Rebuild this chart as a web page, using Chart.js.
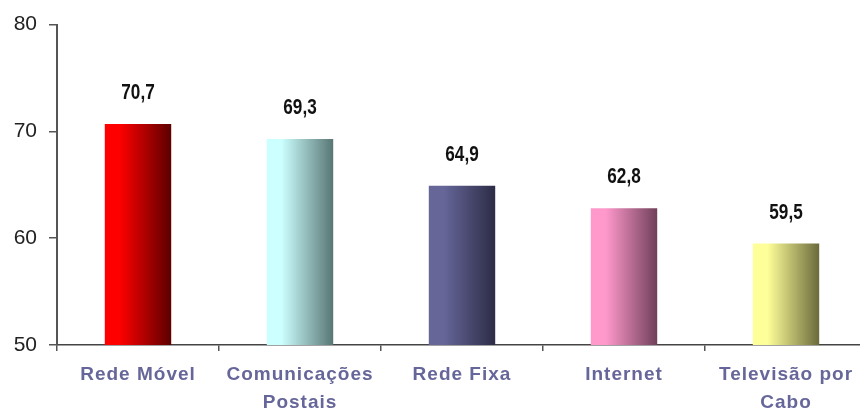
<!DOCTYPE html>
<html>
<head>
<meta charset="utf-8">
<script src="https://cdn.jsdelivr.net/npm/chart.js@4/dist/chart.umd.min.js"></script>
<style>
  html, body { margin: 0; padding: 0; background: #fff; overflow: hidden; }
  #wrap { position: relative; width: 870px; height: 414px; }
</style>
</head>
<body>
<div id="wrap"><canvas id="c" width="870" height="414"></canvas></div>
<script>
// Satisfaction index per service
const categories = ['Rede Móvel', ['Comunicações', 'Postais'], 'Rede Fixa', 'Internet', ['Televisão por', 'Cabo']];
const values = [70.7, 69.3, 64.9, 62.8, 59.5];
const yTicks = [50, 60, 70, 80];

// light → dark horizontal shading for each bar
const gradStart = ['#ff0000', '#ccffff', '#666699', '#ff99cc', '#ffff99'];
const gradEnd   = ['#5c0000', '#587674', '#2c2c46', '#70405a', '#6a6a3c'];

const BAR_PCT = 0.41;

function barGradient(ctx) {
  const chart = ctx.chart;
  const i = ctx.dataIndex;
  const xs = chart.scales.x;
  if (!chart.chartArea || !xs || i === undefined) return gradStart[i] || '#999';
  const cx = xs.getPixelForValue(i);
  const half = (xs.width / categories.length) * BAR_PCT / 2;
  const g = chart.ctx.createLinearGradient(cx - half, 0, cx + half, 0);
  g.addColorStop(0, gradStart[i]);
  g.addColorStop(0.22, gradStart[i]);
  g.addColorStop(1, gradEnd[i]);
  return g;
}

// value above each bar, in a condensed bold face
const valueLabels = {
  id: 'valueLabels',
  afterDatasetsDraw(chart) {
    const ctx = chart.ctx;
    const meta = chart.getDatasetMeta(0);
    meta.data.forEach((bar, i) => {
      ctx.save();
      ctx.translate(bar.x, bar.y - 31);
      ctx.scale(0.78, 1);
      ctx.font = 'bold 22px "Liberation Sans", Arial, sans-serif';
      ctx.fillStyle = '#111';
      ctx.textAlign = 'center';
      ctx.textBaseline = 'middle';
      ctx.fillText(values[i].toFixed(1).replace('.', ','), 0, 0);
      ctx.restore();
    });
  }
};

const categoryLabels = {
  id: 'categoryLabels',
  afterDraw(chart) {
    const ctx = chart.ctx;
    const xs = chart.scales.x;
    ctx.save();
    ctx.font = 'bold 19px "Liberation Sans", Arial, sans-serif';
    ctx.letterSpacing = '1px';
    ctx.fillStyle = '#66669a';
    ctx.textAlign = 'center';
    ctx.textBaseline = 'middle';
    categories.forEach((lab, i) => {
      const lines = Array.isArray(lab) ? lab : [lab];
      const x = xs.getPixelForValue(i);
      lines.forEach((t, k) => ctx.fillText(t, x, xs.top + 30 + k * 28));
    });
    ctx.restore();
  }
};

new Chart(document.getElementById('c'), {
  type: 'bar',
  data: {
    labels: categories,
    datasets: [{
      data: values,
      backgroundColor: barGradient,
      borderWidth: 0,
      barPercentage: BAR_PCT,
      categoryPercentage: 1
    }]
  },
  options: {
    responsive: false,
    animation: false,
    devicePixelRatio: 1,
    layout: { padding: { top: 22, right: 3, left: 0, bottom: 0 } },
    plugins: { legend: { display: false }, tooltip: { enabled: false } },
    scales: {
      x: {
        offset: true,
        grid: { display: true, drawOnChartArea: false, drawTicks: true, tickLength: 6, color: '#555', lineWidth: 1.5 },
        border: { display: true, color: '#444', width: 1.5 },
        ticks: { display: false },
        afterFit(scale) { scale.height = 69; }
      },
      y: {
        min: 50, max: 80,
        afterBuildTicks(scale) { scale.ticks = yTicks.map(v => ({ value: v })); },
        grid: { drawOnChartArea: false, drawTicks: true, tickLength: 8, color: '#555', lineWidth: 1.5 },
        border: { display: true, color: '#555', width: 2 },
        ticks: {
          padding: 12,
          color: '#222',
          font: { family: '"Liberation Sans", Arial, sans-serif', size: 21 }
        },
        afterFit(scale) { scale.width = 57; }
      }
    }
  },
  plugins: [valueLabels, categoryLabels]
});
</script>
</body>
</html>
